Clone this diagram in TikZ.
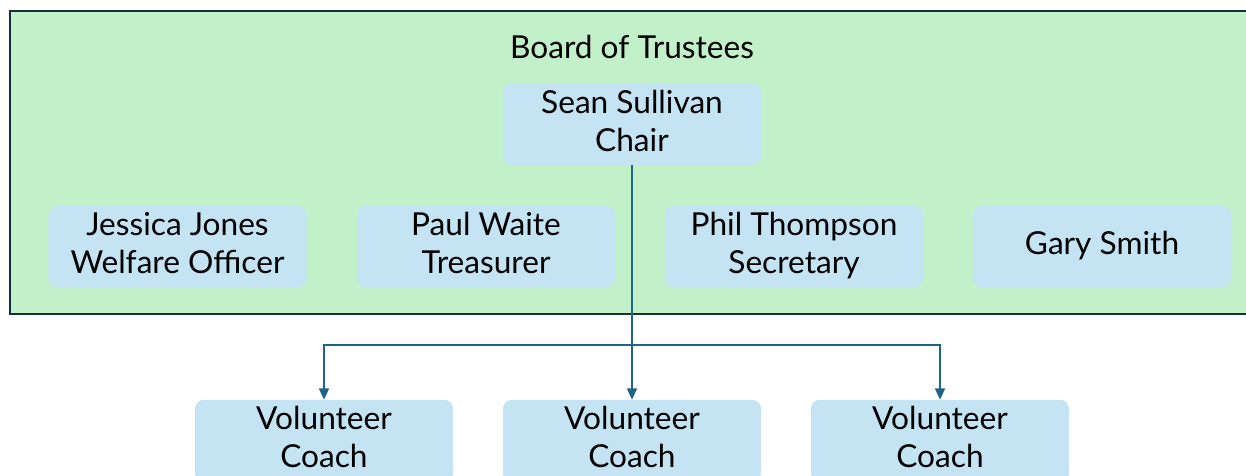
\documentclass[tikz,border=0pt]{standalone}
\usepackage{fontspec}
\setmainfont{Lato}
\usetikzlibrary{arrows.meta}
\definecolor{boardgreen}{HTML}{C2F0C8}
\definecolor{boardline}{HTML}{12303F}
\definecolor{rolefill}{HTML}{C4E4F4}
\definecolor{linkblue}{HTML}{1E6487}
\tikzset{
  role/.style={fill=rolefill, rounded corners=6pt, minimum width=6.45cm,
    minimum height=2.025cm, inner ysep=0pt, align=center,
    font=\fontsize{22.5}{27}\selectfont},
  link/.style={draw=linkblue, line width=1.4pt}
}
\begin{document}
\begin{tikzpicture}[x=0.025cm, y=-0.025cm]
            \useasboundingbox (0,0) rectangle (1246,475);
            \node (board) at (630,162.5) [draw=boardline, line width=1.5pt, fill=boardgreen,
              minimum width=31cm, minimum height=7.575cm] {};
            \node (title) at (632,47) [font=\fontsize{22.5}{27}\selectfont] {Board of Trustees};

            \node (chair) at (632,124.5) [role] {\strut Sean Sullivan\\Chair\strut};

            \node (welfare) at (177.5,246.5) [role] {\strut Jessica Jones\\Welfare Officer\strut};
            \node (treas) at (486,246.5) [role] {\strut Paul Waite\\Treasurer\strut};
            \node (sec) at (794,246.5) [role] {\strut Phil Thompson\\Secretary\strut};
            \node (gary) at (1102,246.5) [role] {\strut Gary Smith};

            \node (coach1) at (324,440.5) [role] {\strut Volunteer\\Coach\strut};
            \node (coach2) at (632,440.5) [role] {\strut Volunteer\\Coach\strut};
            \node (coach3) at (940,440.5) [role] {\strut Volunteer\\Coach\strut};

            \coordinate (split) at (632,345);

            \draw[link, -{Triangle[length=8pt,width=7pt]}]
            (chair) to (coach2);
            \draw[link, -{Triangle[length=8pt,width=7pt]}]
            (split) -| (coach1);
            \draw[link, -{Triangle[length=8pt,width=7pt]}]
            (split) -| (coach3);
          \end{tikzpicture}
\end{document}
